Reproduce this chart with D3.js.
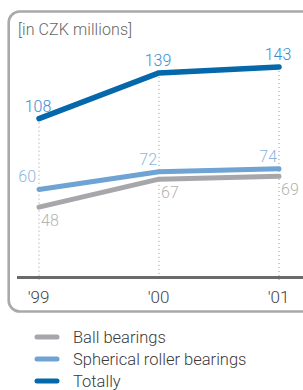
<!DOCTYPE html>
<html><head><meta charset="utf-8">
<script src="https://cdn.jsdelivr.net/npm/d3@7"></script>
<style>
html,body{margin:0;padding:0;background:#fff;}
svg{display:block;font-family:Roboto,"Liberation Sans",sans-serif;}
</style></head>
<body>
<script>
const years = ["'99", "'00", "'01"];
const ball = [48, 67, 69];
const spherical = [60, 72, 74];
const totally = [108, 139, 143];
const seriesNames = ["Ball bearings", "Spherical roller bearings", "Totally"];
const unitLabel = "[in CZK millions]";

const W = 303, H = 390;
const svg = d3.select("body").append("svg").attr("width", W).attr("height", H);

const x = d3.scalePoint().domain(years).range([39, 279]);
const y = d3.scaleLinear().domain([0, 143]).range([278, 67]);

// frame
svg.append("rect").attr("x", 8.7).attr("y", 11.5).attr("width", 320).attr("height", 300)
  .attr("rx", 11).attr("fill", "none").attr("stroke", "#a9a9a9").attr("stroke-width", 2.6);

svg.append("text").attr("x", 18).attr("y", 35).attr("fill", "#666").attr("font-size", 16)
  .attr("font-weight", 300).attr("textLength", 114).text(unitLabel);

// dotted verticals
svg.append("g").selectAll("line").data(years).join("line")
  .attr("x1", d => x(d)).attr("x2", d => x(d))
  .attr("y1", (d, i) => y(totally[i]) + 4).attr("y2", 281)
  .attr("stroke", "#999").attr("stroke-width", 1).attr("stroke-dasharray", "1,3");

// axis baseline
svg.append("line").attr("x1", 17).attr("x2", 303).attr("y1", 277.5).attr("y2", 277.5)
  .attr("stroke", "#6a6a6a").attr("stroke-width", 3);

const xAxis = d3.axisBottom(x).tickSize(0).tickPadding(0);
const gx = svg.append("g").attr("transform", "translate(0,291)").call(xAxis);
gx.select(".domain").remove();
gx.selectAll("text").attr("font-size", 17).attr("font-weight", 300).attr("fill", "#444")
  .attr("font-family", "Roboto,sans-serif").attr("dx", -1);

const line = d3.line().x((d, i) => x(years[i])).y(d => y(d));
const series = [
  {vals: ball, color: "#a7a7ab", w: 5},
  {vals: spherical, color: "#6ea3d3", w: 5},
  {vals: totally, color: "#0568aa", w: 5.5}
];
series.forEach(s => {
  svg.append("path").datum(s.vals).attr("d", line).attr("fill", "none")
    .attr("stroke", s.color).attr("stroke-width", s.w).attr("stroke-linecap", "round")
    .attr("stroke-linejoin", "round");
});

// totally: centered above
svg.append("g").selectAll("text").data(totally).join("text")
  .attr("x", (d, i) => x(years[i]) - 1)
  .attr("y", d => y(d) - 7)
  .attr("text-anchor", "middle").attr("fill", "#3a8dcf").attr("font-size", 16).attr("font-weight", 300)
  .text(d => d);
// spherical: end-anchored left-above
svg.append("g").selectAll("text").data(spherical).join("text")
  .attr("x", (d, i) => x(years[i]) - (i === 0 ? 3 : 2))
  .attr("y", d => y(d) - 7)
  .attr("text-anchor", "end").attr("fill", "#8cb7df").attr("font-size", 16).attr("font-weight", 300)
  .text(d => d);
// ball: start-anchored right-below
svg.append("g").selectAll("text").data(ball).join("text")
  .attr("x", (d, i) => x(years[i]) + 2)
  .attr("y", d => y(d) + 19)
  .attr("text-anchor", "start").attr("fill", "#b3b3b3").attr("font-size", 16).attr("font-weight", 300)
  .text(d => d);

// legend
const lg = svg.append("g");
const legY = [337, 359, 381];
const legColors = ["#a7a7ab", "#6ea3d3", "#0568aa"];
seriesNames.forEach((n, i) => {
  lg.append("line").attr("x1", 37).attr("x2", 57).attr("y1", legY[i]).attr("y2", legY[i])
    .attr("stroke", legColors[i]).attr("stroke-width", 5).attr("stroke-linecap", "round");
  lg.append("text").attr("x", 73).attr("y", legY[i] + 6).attr("font-size", 16.5)
    .attr("font-weight", 300).attr("fill", "#3a3a3a").text(n);
});
</script>
</body></html>
